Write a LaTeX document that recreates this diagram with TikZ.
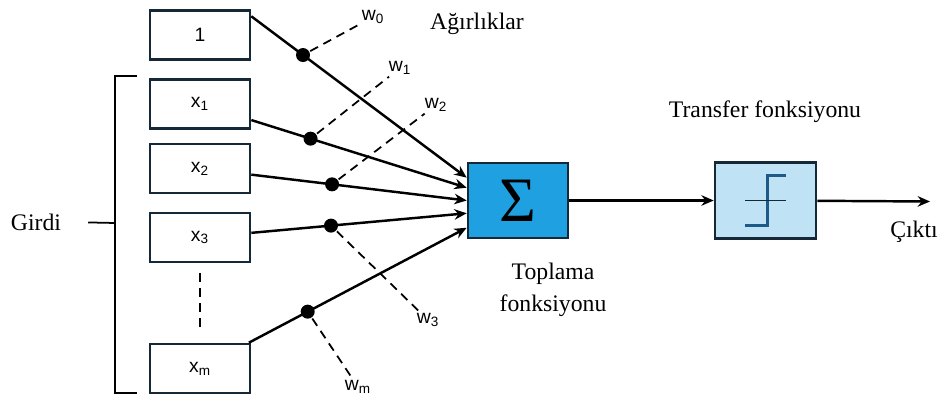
\documentclass[tikz,border=0pt]{standalone}
\usepackage{fontspec}
\setmainfont{Liberation Serif}
\setsansfont{Liberation Sans}
\usepackage{tikz}
\usetikzlibrary{arrows.meta,positioning}

\definecolor{boxline}{RGB}{20,40,55}
\definecolor{sumblue}{RGB}{30,160,225}
\definecolor{tfblue}{RGB}{192,226,245}
\definecolor{stepblue}{RGB}{30,90,135}

\tikzset{
  inbox/.style={draw=boxline, line width=1.5pt, minimum width=2cm, minimum height=0.98cm,
    font=\sffamily\fontsize{11}{13}\selectfont},
  wlabel/.style={font=\sffamily\fontsize{11}{13}\selectfont, inner sep=1pt},
  txt/.style={font=\fontsize{13.5}{18}\selectfont, align=center},
  dot/.style={circle, fill=black, minimum size=0.28cm, inner sep=0pt},
  wire/.style={line width=1.4pt, -{Stealth[length=7pt,width=6pt]}},
  wdash/.style={line width=1pt, dash pattern=on 5pt off 3.5pt}
}

\begin{document}
\begin{tikzpicture}[on grid]
  \useasboundingbox (0,0) rectangle (18.88,-7.98);
  % input boxes
  \node[inbox] (one) at (4,-0.70) {1};
  \node[inbox] (x1) [below=1.38cm of one] {x\textsubscript{1}};
  \node[inbox] (x2) [below=1.29cm of x1] {x\textsubscript{2}};
  \node[inbox] (x3) [below=1.38cm of x2] {x\textsubscript{3}};
  \node[inbox] (xm) [below=2.62cm of x3] {x\textsubscript{m}};
  % sum and transfer
  \node[draw=boxline, line width=1.5pt, fill=sumblue, minimum width=2cm, minimum height=1.5cm,
    font=\fontsize{36}{36}\selectfont] (sigma) at (10.36,-4.01) {Σ};
  \node[draw=boxline, line width=1.5pt, fill=tfblue, minimum width=2.02cm, minimum height=1.52cm]
    (tf) [right=4.95cm of sigma] {};
  \coordinate (out) at (18.60,-4.03);
  % texts
  \node[txt] (agirlik) at (9.54,-0.48) {Ağırlıklar};
  \node[txt] (transfer) at (15.30,-2.24) {Transfer fonksiyonu};
  \node[txt] (toplama) at (11.06,-5.80) {Toplama\\fonksiyonu};
  \node[txt] (cikti) at (18.28,-4.64) {Çıktı};
  \node[txt] (girdi) at (0.72,-4.44) {Girdi};
  % weight labels
  \node[wlabel] (w0) at (7.46,-0.34) {w\textsubscript{0}};
  \node[wlabel] (w1) at (8.00,-1.36) {w\textsubscript{1}};
  \node[wlabel] (w2) at (8.72,-2.10) {w\textsubscript{2}};
  \node[wlabel] (w3) at (8.56,-6.40) {w\textsubscript{3}};
  \node[wlabel] (wm) at (7.16,-7.74) {w\textsubscript{m}};

  % weighted inputs
  \draw[wire] (one.20) -- (sigma.156) node[dot, pos=0.24] (d0) {};
  \draw[wire] (x1) -- (sigma.166) node[dot, pos=0.275] (d1) {};
  \draw[wire] (x2) -- (sigma.west) node[dot, pos=0.375] (d2) {};
  \draw[wire] (x3) -- (sigma.194) node[dot, pos=0.37] (d3) {};
  \draw[wire] (xm) -- (sigma.208) node[dot, pos=0.27] (dm) {};
  \draw[wdash] (d0) -- (w0);
  \draw[wdash] (d1) -- (w1);
  \draw[wdash] (d2) -- (w2);
  \draw[wdash] (d3) -- (w3);
  \draw[wdash] (dm) -- (wm);
  \draw[wdash, shorten <=0.2cm, shorten >=0.26cm] (x3) -- (xm);

  \draw[wire] (sigma) -- (tf);
  \draw[wire] (tf) -- (out);

  % step function
  \draw[stepblue, line width=2pt]
    ([shift={(-0.41,-0.5)}]tf.center) -- ++(0.45,0) -- ++(0,1) -- ++(0.37,0);
  \draw[boxline, line width=1.1pt]
    ([xshift=-0.41cm]tf.center) -- ([xshift=0.41cm]tf.center);

  % input bracket
  \coordinate (btop) at (2.74,-1.52);
  \coordinate (bbot) at (2.74,-7.86);
  \coordinate (bmid) at (2.30,-4.46);
  \draw[line width=1pt] (btop) -- ++(-0.44,0) |- (bbot);
  \draw[line width=1pt, shorten <=0.42cm] (girdi.east) -- (bmid);
\end{tikzpicture}
\end{document}
